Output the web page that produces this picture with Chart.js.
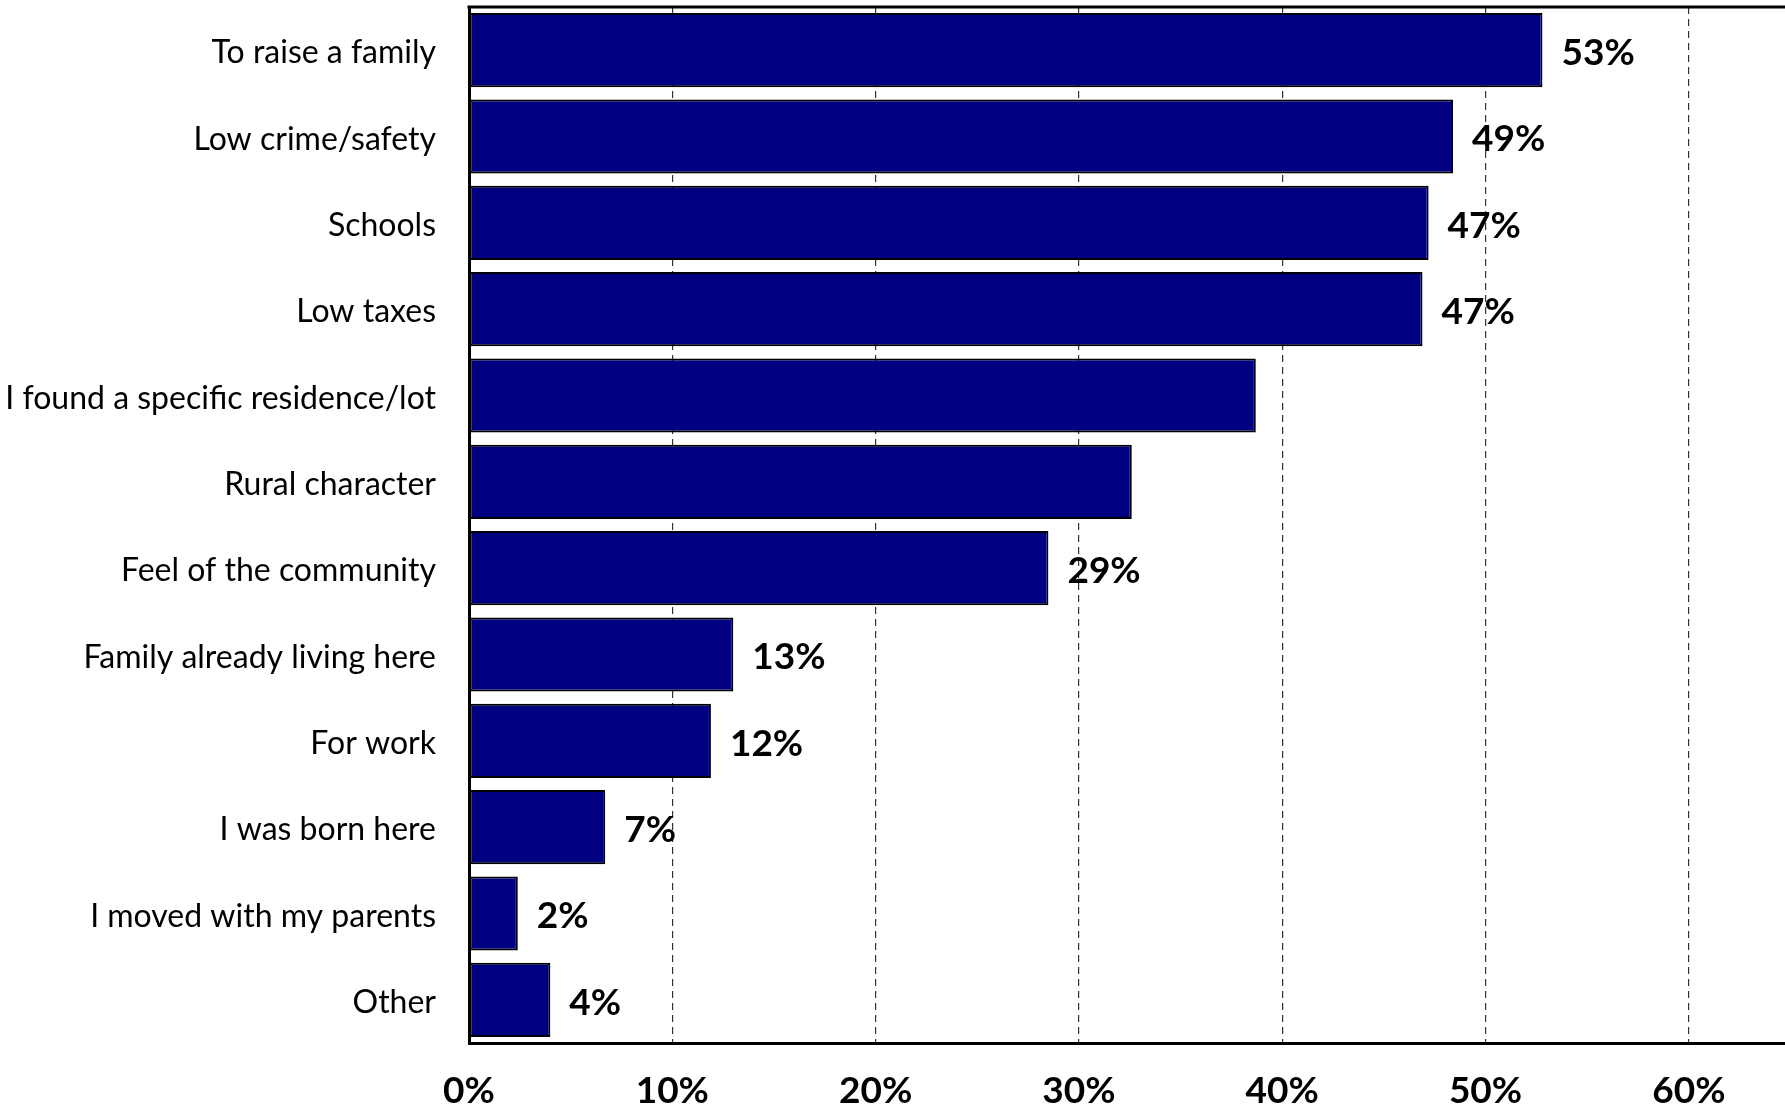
<!DOCTYPE html>
<html>
<head>
<meta charset="utf-8">
<script src="https://cdn.jsdelivr.net/npm/chart.js@4/dist/chart.umd.min.js"></script>
<style>
  html, body { margin: 0; padding: 0; background: #fff; }
  canvas { display: block; }
</style>
</head>
<body>
<canvas id="bars" width="1785" height="1112"></canvas>
<script>
var categories = [
  "To raise a family",
  "Low crime/safety",
  "Schools",
  "Low taxes",
  "I found a specific residence/lot",
  "Rural character",
  "Feel of the community",
  "Family already living here",
  "For work",
  "I was born here",
  "I moved with my parents",
  "Other"
];
var shares = [52.8, 48.4, 47.2, 46.9, 38.7, 32.6, 28.5, 13.0, 11.9, 6.7, 2.4, 4.0];
var valueLabels = ["53%", "49%", "47%", "47%", "", "", "29%", "13%", "12%", "7%", "2%", "4%"];
var tickValues = [0, 10, 20, 30, 40, 50, 60];

// top frame line + value labels next to the bars
var extras = {
  id: "extras",
  afterDraw: function (chart) {
    var ctx = chart.ctx;
    var area = chart.chartArea;
    ctx.save();
    ctx.strokeStyle = "#000";
    ctx.lineWidth = 3;
    ctx.beginPath();
    ctx.moveTo(area.left - 1.5, area.top);
    ctx.lineTo(area.right, area.top);
    ctx.stroke();

    ctx.fillStyle = "#000";
    ctx.font = "bold 37px Lato";
    ctx.textAlign = "left";
    ctx.textBaseline = "middle";
    chart.getDatasetMeta(0).data.forEach(function (bar, i) {
      if (valueLabels[i]) ctx.fillText(valueLabels[i], bar.x + 19, bar.y + 3);
    });
    ctx.restore();
  }
};

var ctx = document.querySelector("#bars").getContext("2d");
new Chart(ctx, {
  type: "bar",
  data: {
    labels: categories,
    datasets: [
      {
        data: shares,
        backgroundColor: "#000080",
        borderColor: "#000",
        borderWidth: 2,
        borderSkipped: false,
        barPercentage: 0.86,
        categoryPercentage: 1
      }
    ]
  },
  options: {
    indexAxis: "y",
    responsive: false,
    animation: false,
    devicePixelRatio: 1,
    layout: { padding: { top: 7, right: 0, left: 0, bottom: 0 } },
    plugins: {
      legend: { display: false },
      tooltip: { enabled: false }
    },
    scales: {
      x: {
        min: 0,
        max: 64.73,
        afterBuildTicks: function (scale) {
          scale.ticks = tickValues.map(function (v) { return { value: v }; });
        },
        afterFit: function (scale) { scale.height = 69; },
        grid: {
          color: "#333",
          lineWidth: 1.2,
          drawTicks: false,
          tickLength: 0
        },
        border: { color: "#000", width: 3, dash: [7, 5], dashOffset: 0 },
        ticks: {
          padding: 26,
          color: "#000",
          font: { family: "Lato", size: 37, weight: "bold" },
          callback: function (v) { return v + "%"; }
        }
      },
      y: {
        afterFit: function (scale) {
          scale.width = 469;
          scale.paddingTop = 0;
          scale.paddingBottom = 0;
        },
        grid: { display: false, drawTicks: false },
        border: { color: "#000", width: 3 },
        ticks: {
          padding: 33,
          labelOffset: 3,
          color: "#000",
          font: { family: "Lato", size: 32 }
        }
      }
    }
  },
  plugins: [extras]
});
</script>
</body>
</html>
